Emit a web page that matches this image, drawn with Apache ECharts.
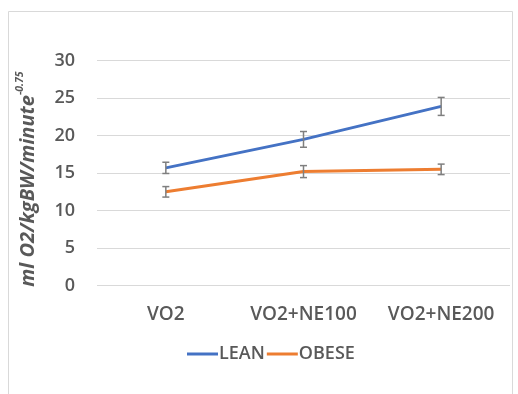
<!DOCTYPE html>
<html>
<head>
<meta charset="utf-8">
<script src="https://cdn.jsdelivr.net/npm/echarts@6/dist/echarts.min.js"></script>
<style>
  html, body { margin: 0; padding: 0; background: #fff; }
  #chart { width: 518px; height: 394px; }
</style>
</head>
<body>
<div id="chart"></div>
<script>
// Oxygen consumption per condition, lean vs obese (mean ± error)
const categories = ['VO2', 'VO2+NE100', 'VO2+NE200'];
const leanValues = [15.7, 19.5, 23.9];
const leanErrors = [0.75, 1.05, 1.2];
const obeseValues = [12.5, 15.2, 15.5];
const obeseErrors = [0.7, 0.8, 0.7];
const yTicks = [0, 5, 10, 15, 20, 25, 30];

const FONT = '"Open Sans", sans-serif';
const TEXT = '#595959';
const BLUE = '#4472C4';
const ORANGE = '#ED7D31';

function errorSeries(name, values, errors) {
  return {
    type: 'custom',
    name: name + ' err',
    z: 5,
    silent: true,
    data: values.map((v, i) => [i, v - errors[i], v + errors[i]]),
    renderItem: function (params, api) {
      const lo = api.coord([api.value(0), api.value(1)]);
      const hi = api.coord([api.value(0), api.value(2)]);
      const w = 3.5;
      const style = { stroke: '#7f7f7f', lineWidth: 1.5 };
      return {
        type: 'group',
        children: [
          { type: 'line', shape: { x1: lo[0], y1: lo[1], x2: hi[0], y2: hi[1] }, style },
          { type: 'line', shape: { x1: lo[0] - w, y1: lo[1], x2: lo[0] + w, y2: lo[1] }, style },
          { type: 'line', shape: { x1: hi[0] - w, y1: hi[1], x2: hi[0] + w, y2: hi[1] }, style }
        ]
      };
    }
  };
}

const chart = echarts.init(document.getElementById('chart'), null, { renderer: 'canvas' });
chart.setOption({
  animation: false,
  backgroundColor: '#fff',
  textStyle: { fontFamily: FONT },
  graphic: [{
    type: 'rect',
    shape: { x: 8.5, y: 11.5, width: 504, height: 400 },
    style: { fill: 'none', stroke: '#d9d9d9', lineWidth: 1 },
    silent: true
  }],
  grid: { left: 97, right: 8, top: 60.7, bottom: 108.5, containLabel: false },
  legend: {
    left: 182,
    top: 340,
    itemWidth: 31,
    itemHeight: 3,
    itemGap: 2,
    icon: 'rect',
    data: ['LEAN', 'OBESE'],
    textStyle: { color: TEXT, fontSize: 18, fontWeight: 600, fontFamily: FONT, padding: [0, 0, 0, -4] }
  },
  xAxis: {
    type: 'category',
    data: categories,
    boundaryGap: true,
    axisLine: { show: false },
    axisTick: { show: false },
    axisLabel: { interval: 0, color: TEXT, fontSize: 19, fontWeight: 600, fontFamily: FONT, margin: 20 },
    splitLine: { show: false }
  },
  yAxis: {
    type: 'value',
    min: yTicks[0],
    max: yTicks[yTicks.length - 1],
    interval: 5,
    axisLine: { show: false },
    axisTick: { show: false },
    axisLabel: { color: TEXT, fontSize: 18, fontWeight: 600, fontFamily: FONT, margin: 22 },
    splitLine: { lineStyle: { color: '#d9d9d9', width: 1 } },
    name: '{m|ml O2/kgBW/minute}{s|-0.75}',
    nameLocation: 'middle',
    nameRotate: 90,
    nameGap: 59,
    nameTextStyle: {
      padding: [0, 12, 0, 0],
      rich: {
        m: { fontSize: 20, fontStyle: 'italic', fontWeight: 'bold', color: TEXT, fontFamily: FONT, verticalAlign: 'bottom', lineHeight: 23 },
        s: { fontSize: 10.5, fontStyle: 'italic', fontWeight: 'bold', color: TEXT, fontFamily: FONT, verticalAlign: 'top', lineHeight: 23 }
      }
    }
  },
  series: [
    {
      name: 'LEAN', type: 'line', data: leanValues, color: BLUE,
      symbol: 'none', lineStyle: { width: 3, color: BLUE }, z: 3
    },
    {
      name: 'OBESE', type: 'line', data: obeseValues, color: ORANGE,
      symbol: 'none', lineStyle: { width: 3, color: ORANGE }, z: 3
    },
    errorSeries('LEAN', leanValues, leanErrors),
    errorSeries('OBESE', obeseValues, obeseErrors)
  ]
});
</script>
</body>
</html>
